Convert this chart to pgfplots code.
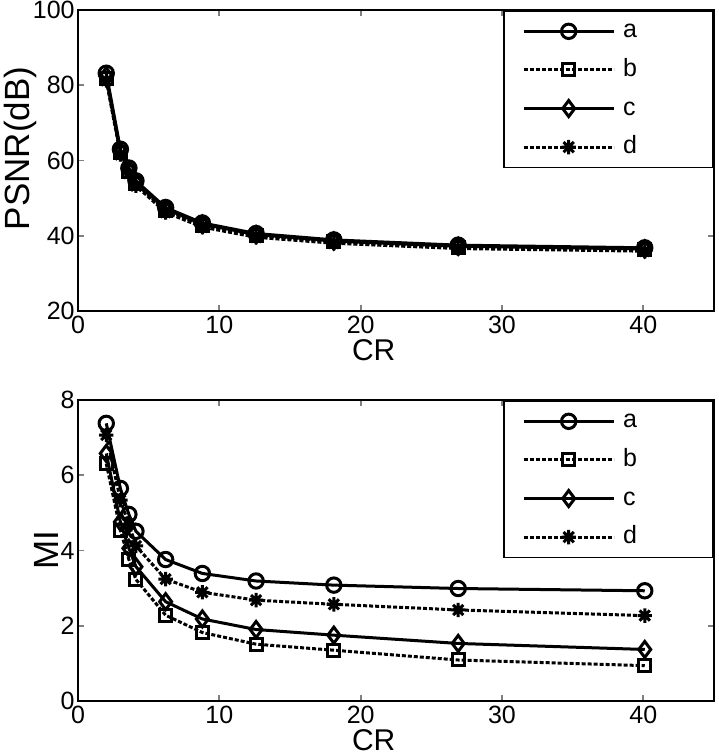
\documentclass[border=0pt]{standalone}
\usepackage{pgfplots}
\pgfplotsset{compat=1.18}
\usepackage{fontspec}
\setmainfont{Liberation Sans}

% MATLAB-like '*' marker (8 arms)
\pgfdeclareplotmark{mstar}{%
  \pgfpathmoveto{\pgfqpoint{0pt}{\pgfplotmarksize}}%
  \pgfpathlineto{\pgfqpoint{0pt}{-\pgfplotmarksize}}%
  \pgfpathmoveto{\pgfqpoint{\pgfplotmarksize}{0pt}}%
  \pgfpathlineto{\pgfqpoint{-\pgfplotmarksize}{0pt}}%
  \pgfpathmoveto{\pgfqpoint{0.707\pgfplotmarksize}{0.707\pgfplotmarksize}}%
  \pgfpathlineto{\pgfqpoint{-0.707\pgfplotmarksize}{-0.707\pgfplotmarksize}}%
  \pgfpathmoveto{\pgfqpoint{-0.707\pgfplotmarksize}{0.707\pgfplotmarksize}}%
  \pgfpathlineto{\pgfqpoint{0.707\pgfplotmarksize}{-0.707\pgfplotmarksize}}%
  \pgfusepathqstroke}

\pgfplotsset{
  mplot/.style={
    scale only axis, width=318pt, height=150.5pt,
    xmin=0, xmax=45, xtick={0,10,20,30,40},
    tick pos=both, tick align=inside, major tick length=3pt,
    axis line style={line width=0.9pt}, tick style={line width=0.9pt},
    /pgf/number format/assume math mode=true,
    tick label style={font=\fontsize{12.5}{15}\selectfont},
    ylabel style={font=\fontsize{17.5}{20}\selectfont},
    xlabel style={font=\fontsize{15}{18}\selectfont},
    yticklabel style={inner xsep=1.5pt},
    xticklabel style={inner ysep=2.5pt},
    xlabel=CR,
    xlabel style={at={(axis description cs:0.465,-0.13)}, anchor=center},
    legend cell align=left,
    legend style={at={(1,1)}, anchor=north east, draw=black, line width=0.8pt,
      font=\fontsize{12.5}{15}\selectfont,
      nodes={inner xsep=4pt, inner ysep=1pt, text height=9pt, text depth=2.5pt},
      row sep=5.8pt, inner xsep=9pt, inner ysep=3.5pt},
    legend image code/.code={%
      \draw[mark repeat=2, mark phase=2] plot coordinates {(0pt,0pt) (22.5pt,0pt) (45pt,0pt)};},
  },
  sa/.style={black, line width=1.5pt, mark=o, mark size=3.6pt, mark options={solid}},
  sb/.style={black, line width=1.5pt, dash pattern=on 2pt off 1pt, mark=square, mark size=3pt, mark options={solid}},
  sc/.style={black, line width=1.5pt, mark=diamond, mark size=4pt, mark options={solid}},
  sd/.style={black, line width=1.5pt, dash pattern=on 2pt off 1pt, mark=mstar, mark size=3.6pt, mark options={solid}},
}

\begin{document}
\begin{tikzpicture}
% page frame: 718 x 755 px at 0.5pt per px
\path[use as bounding box] (-39pt,-222pt) rectangle (320pt,155.5pt);
\begin{axis}[mplot,
  ymin=20, ymax=100, ytick={20,40,60,80,100},
  ylabel={PSNR(dB)},
  ylabel style={at={(axis description cs:-0.091,0.54)}, anchor=center},
]
\addplot[sa] coordinates {(2,83.2) (3,63.0) (3.6,58.0) (4.1,54.6) (6.2,47.5) (8.8,43.4) (12.6,40.6) (18.1,38.9) (26.9,37.5) (40.1,36.8)};
\addlegendentry{\makebox[32pt][l]{a}}
\addplot[sb] coordinates {(2,81.8) (3,62.0) (3.6,57.0) (4.1,53.8) (6.2,46.8) (8.8,42.8) (12.6,40.1) (18.1,38.4) (26.9,37.0) (40.1,36.3)};
\addlegendentry{b}
\addplot[sc] coordinates {(2,82.5) (3,62.5) (3.6,57.5) (4.1,54.2) (6.2,47.1) (8.8,43.1) (12.6,40.3) (18.1,38.6) (26.9,37.2) (40.1,36.5)};
\addlegendentry{c}
\addplot[sd] coordinates {(2,81.3) (3,61.6) (3.6,56.6) (4.1,53.3) (6.2,46.2) (8.8,42.3) (12.6,39.6) (18.1,38.0) (26.9,36.6) (40.1,35.9)};
\addlegendentry{d}
\end{axis}

\begin{axis}[mplot, at={(0pt,-195pt)},
  ymin=0, ymax=8, ytick={0,2,4,6,8},
  ylabel={MI},
  ylabel style={at={(axis description cs:-0.05,0.5)}, anchor=center},
]
\addplot[sa] coordinates {(2,7.38) (3,5.65) (3.6,4.96) (4.1,4.51) (6.2,3.76) (8.8,3.39) (12.6,3.19) (18.1,3.08) (26.9,2.99) (40.1,2.93)};
\addlegendentry{\makebox[32pt][l]{a}}
\addplot[sb] coordinates {(2,6.31) (3,4.54) (3.6,3.76) (4.1,3.23) (6.2,2.28) (8.8,1.82) (12.6,1.51) (18.1,1.35) (26.9,1.09) (40.1,0.94)};
\addlegendentry{b}
\addplot[sc] coordinates {(2,6.58) (3,4.76) (3.6,4.06) (4.1,3.57) (6.2,2.64) (8.8,2.18) (12.6,1.90) (18.1,1.75) (26.9,1.53) (40.1,1.37)};
\addlegendentry{c}
\addplot[sd] coordinates {(2,7.07) (3,5.34) (3.6,4.70) (4.1,4.12) (6.2,3.24) (8.8,2.89) (12.6,2.68) (18.1,2.57) (26.9,2.42) (40.1,2.27)};
\addlegendentry{d}
\end{axis}
\end{tikzpicture}
\end{document}
